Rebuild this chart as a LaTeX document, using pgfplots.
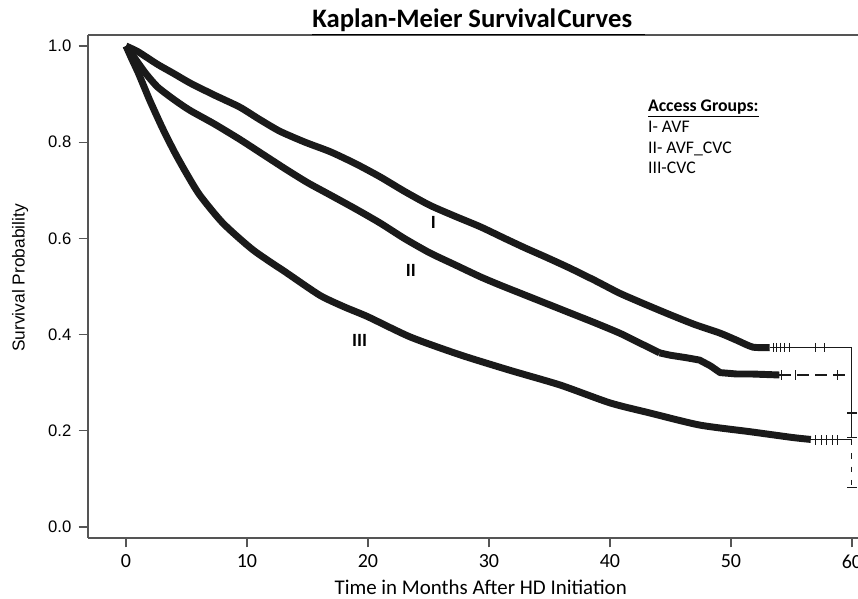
\documentclass[border=0pt]{standalone}
\usepackage{pgfplots}
\pgfplotsset{compat=1.18}
\usepackage{fontspec}
\setmainfont{Carlito}
\newfontfamily\arial{Liberation Sans}
\definecolor{curve}{HTML}{1A1A1A}
\definecolor{frame}{HTML}{555555}

\begin{document}
\begin{tikzpicture}
\begin{axis}[
  scale only axis, width=577.5pt, height=377.25pt,
  xmin=-3.14, xmax=60.5, ymin=-0.0229, ymax=1.0229,
  axis x line=box, axis y line=left,
  axis line style={-, line width=1pt, draw=frame},
  xtick={0,10,...,60}, ytick={0,0.2,0.4,0.6,0.8,1.0},
  xtick pos=left, tick align=outside, major tick length=7pt,
  tick style={line width=1pt, draw=frame},
  /pgf/number format/assume math mode=true,
  yticklabel style={font=\arial\fontsize{12.5}{15}\selectfont, xshift=-2pt,
    /pgf/number format/.cd, fixed, fixed zerofill, precision=1},
  xticklabel style={font=\fontsize{15}{17}\selectfont, yshift=-2pt},
  xlabel={Time in Months After HD Initiation},
  xlabel style={font=\fontsize{15.7}{18}\selectfont,
    at={(axis description cs:0.51,-0.099)}, anchor=center},
  ylabel={Survival Probability},
  ylabel style={font=\arial\fontsize{13}{15}\selectfont,
    at={(axis description cs:-0.088,0.517)}, anchor=center},
  clip=false,
]

% I - AVF
\addplot[curve, line width=5.2pt, smooth, tension=0.4] coordinates {
(0,1.0) (1,0.988) (2.6,0.962) (4,0.942) (5.3,0.923) (7.3,0.898) (9.4,0.873)
(11,0.848) (12.7,0.823) (14.8,0.800) (16.9,0.780) (19,0.755) (21.0,0.728)
(23,0.698) (25.1,0.669) (27.2,0.646) (29.3,0.624) (31.3,0.600) (33.0,0.580)
(34.8,0.560) (36.7,0.538) (38.8,0.512) (40.8,0.486) (43,0.462) (45.0,0.441)
(47,0.421) (49.1,0.403) (50.5,0.388) (51.8,0.374) (53.2,0.373)};
\addplot[curve, line width=0.8pt] coordinates {(53.2,0.373) (60,0.373) (60,0.237)};
\addplot[curve, only marks, mark=|, mark size=3.5pt, mark options={line width=0.8pt}] coordinates {
(53.5,0.373) (53.8,0.373) (54.1,0.373) (54.4,0.373) (54.8,0.373) (57,0.373) (57.7,0.373)};

% II - AVF_CVC
\addplot[curve, line width=5.2pt, smooth, tension=0.4] coordinates {
(0,1.0) (0.8,0.972) (1.6,0.944) (2.6,0.915) (4,0.888) (5.3,0.866) (7.3,0.838)
(9.4,0.806) (11.3,0.775) (13.2,0.744) (15,0.716) (16.9,0.690) (19,0.661)
(21.0,0.632) (23,0.600) (25.1,0.570) (27.2,0.545) (29.3,0.520) (31,0.502)
(32.6,0.486) (34.6,0.466) (36.7,0.445) (38.8,0.424) (40.8,0.403) (42.5,0.382)
(44.1,0.362)};
\addplot[curve, line width=5.2pt, line join=round] coordinates {
(44.1,0.362) (45,0.357) (46.3,0.352) (47.4,0.347) (48.3,0.335) (49.1,0.321)
(50.5,0.318) (51.8,0.318) (54.0,0.316)};
\addplot[curve, line width=0.8pt, dash pattern=on 9pt off 4.5pt] coordinates {(54.0,0.316) (60,0.316)};
\addplot[curve, line width=0.8pt] coordinates {(60,0.316) (60,0.187)};
\addplot[curve, only marks, mark=|, mark size=3.5pt, mark options={line width=0.8pt}] coordinates {
(54.2,0.316) (55.3,0.316) (58.8,0.316)};

% III - CVC
\addplot[curve, line width=5.2pt, smooth, tension=0.4] coordinates {
(0,1.0) (0.5,0.972) (1,0.945) (1.5,0.915) (2,0.885) (3,0.830) (4,0.780)
(5,0.735) (6.1,0.690) (8,0.632) (10.5,0.576) (13.3,0.528) (16.0,0.482)
(18,0.458) (20,0.437) (23.5,0.395) (27.6,0.358) (31.7,0.326) (35.9,0.295)
(40.0,0.258) (43.3,0.237) (47.4,0.212) (51.6,0.198) (55.1,0.186) (56.6,0.182)};
\addplot[curve, line width=0.8pt] coordinates {(56.6,0.181) (60,0.181)};
\addplot[curve, line width=0.8pt, dash pattern=on 4pt off 6pt] coordinates {(60,0.181) (60,0.083)};
\addplot[curve, only marks, mark=|, mark size=3.5pt, mark options={line width=0.8pt}] coordinates {
(57.0,0.181) (57.5,0.181) (57.9,0.181) (58.4,0.181) (58.8,0.181)};
\addplot[curve, only marks, mark=-, mark size=3.5pt, mark options={line width=0.8pt}] coordinates {
(60,0.237) (60,0.187) (60,0.083)};

\node[font=\bfseries\fontsize{14}{16}\selectfont] at (axis cs:25.4,0.634) {I};
\node[font=\bfseries\fontsize{14}{16}\selectfont] at (axis cs:23.55,0.534) {II};
\node[font=\bfseries\fontsize{14}{16}\selectfont] at (axis cs:19.3,0.387) {III};

\node[anchor=base west, inner sep=0pt, font=\fontsize{13.3}{15.4}\selectfont]
  at (axis description cs:0.727,0.847)
  {\begin{tabular}[t]{@{}l@{}}
   \underline{\textbf{Access Groups:}}\\
   I- AVF\\
   II- AVF\_CVC\\
   III-CVC
   \end{tabular}};

\node[anchor=base west, inner sep=0pt, font=\bfseries\fontsize{20}{24}\selectfont]
  at (axis description cs:0.291,1.014)
  {\underline{Kaplan-Meier Survival\hspace{1pt}Curves\hspace{10pt}}};
\end{axis}
\pgfresetboundingbox
\path[use as bounding box] ([xshift=-66pt,yshift=-45.75pt]current axis.south west)
  rectangle ([yshift=26.25pt]current axis.north east);
\end{tikzpicture}
\end{document}
